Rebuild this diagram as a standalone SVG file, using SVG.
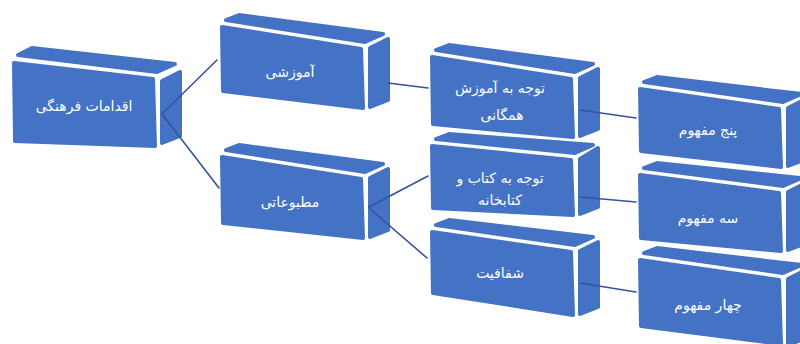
<svg xmlns="http://www.w3.org/2000/svg" width="800" height="344" viewBox="0 0 800 344">
<style>
.f{fill:#4472C4;stroke:#4472C4;stroke-width:4;stroke-linejoin:round}
.t{font-family:"DejaVu Sans",sans-serif;font-size:14px;fill:#ffffff;text-anchor:middle}
.c{fill:none;stroke:#34539A;stroke-width:1.6;stroke-linecap:round}
</style>
<rect width="800" height="344" fill="#ffffff"/>
<g id="n1">
<polygon class="f" points="18,55 32,48 175,64 157,72"/>
<polygon class="f" points="14,63 153,79 155,146 15,141"/>
<polygon class="f" points="162,81 180,72 180,136 162,143"/>
<text class="t" x="84" y="111">اقدامات فرهنگی</text>
</g>
<g id="n2">
<polygon class="f" points="226,20 239,15 383,34 365,42"/>
<polygon class="f" points="222,27 361,49 363,108 223,91"/>
<polygon class="f" points="370,48 388,39 388,100 370,107"/>
<text class="t" x="290" y="77">آموزشی</text>
</g>
<g id="n3">
<polygon class="f" points="226,150 239,145 383,164 365,172"/>
<polygon class="f" points="222,157 361,179 363,238 223,223"/>
<polygon class="f" points="370,178 388,169 388,230 370,237"/>
<text class="t" x="290" y="207">مطبوعاتی</text>
</g>
<g id="n4">
<polygon class="f" points="436,50 449,45 593,64 575,72"/>
<polygon class="f" points="432,57 571,79 573,137 433,124"/>
<polygon class="f" points="580,78 598,69 598,129 580,136"/>
<text class="t" x="500" y="93">توجه به آموزش</text>
<text class="t" x="502" y="120">همگانی</text>
</g>
<g id="n5">
<polygon class="f" points="436,139 449,134 593,145 575,153"/>
<polygon class="f" points="432,146 571,160 573,215 433,208"/>
<polygon class="f" points="580,159 598,148 598,207 580,214"/>
<text class="t" x="500" y="183">توجه به کتاب و</text>
<text class="t" x="500" y="205">کتابخانه</text>
</g>
<g id="n6">
<polygon class="f" points="436,225 449,220 593,237 575,245"/>
<polygon class="f" points="432,232 571,252 573,315 433,293"/>
<polygon class="f" points="580,251 598,242 598,307 580,314"/>
<text class="t" x="500" y="278">شفافیت</text>
</g>
<g id="n7">
<polygon class="f" points="644,82 657,77 801,94 783,102"/>
<polygon class="f" points="640,89 779,109 781,167 641,151"/>
<polygon class="f" points="788,108 806,99 806,159 788,166"/>
<text class="t" x="708" y="135">پنج مفهوم</text>
</g>
<g id="n8">
<polygon class="f" points="644,168 657,163 801,178 783,186"/>
<polygon class="f" points="640,175 779,193 781,251 641,238"/>
<polygon class="f" points="788,192 806,183 806,243 788,250"/>
<text class="t" x="708" y="223">سه مفهوم</text>
</g>
<g id="n9">
<polygon class="f" points="644,253 657,248 801,265 783,273"/>
<polygon class="f" points="640,260 779,280 781,344 641,326"/>
<polygon class="f" points="788,279 806,270 806,338 788,345"/>
<text class="t" x="708" y="310">چهار مفهوم</text>
</g>
<g id="connectors">
<path class="c" d="M162,114 L217,60"/>
<path class="c" d="M162,114 L219,188"/>
<path class="c" d="M388,83 L428,88"/>
<path class="c" d="M369,207 L428,176"/>
<path class="c" d="M369,208 L427,258"/>
<path class="c" d="M580,110 L636,118"/>
<path class="c" d="M580,197 L636,202"/>
<path class="c" d="M580,283 L636,292"/>
</g>
</svg>
